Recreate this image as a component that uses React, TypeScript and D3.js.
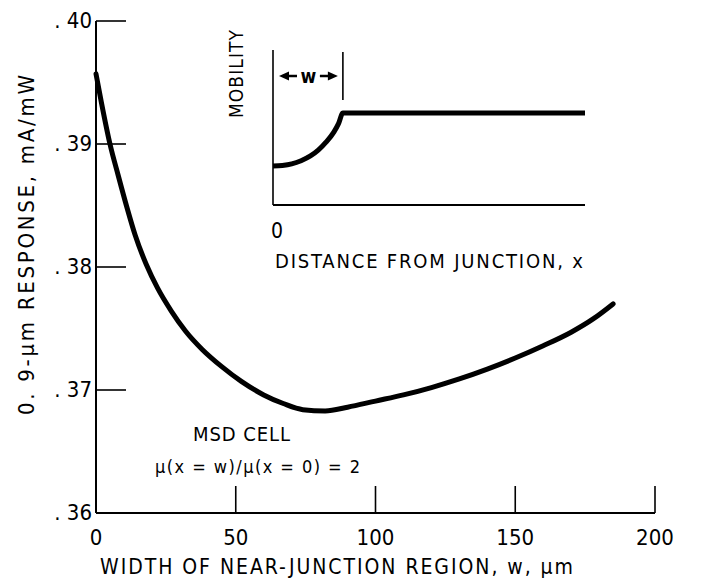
import React from "react";
import * as d3 from "d3";

// Main curve: 0.9-µm response vs. width of the near-junction region
const widthUm = [
  0, 2, 5, 8, 11, 14, 18, 22, 27, 32, 38, 45, 52, 60, 67, 74, 82, 90, 100, 110, 120, 130, 140, 150, 160, 170, 178, 185,
];
const responseMAperMW = [
  0.3957, 0.3933, 0.39, 0.3874, 0.3849, 0.3826, 0.3802, 0.3783, 0.3764, 0.3748, 0.3733, 0.3719, 0.3707, 0.3696,
  0.3689, 0.3684, 0.3683, 0.3686, 0.3691, 0.3696, 0.3702, 0.3709, 0.3717, 0.3726, 0.3736, 0.3747, 0.3758, 0.377,
];

const xTicks = [0, 50, 100, 150, 200];
const yTicks = [0.36, 0.37, 0.38, 0.39, 0.4];

// Inset: mobility profile vs. distance from junction (edge of region at w)
const insetW = 2.24;
const insetDistance = [0, 0.3, 0.6, 0.9, 1.2, 1.45, 1.7, 1.95, 2.1, insetW, 10];
const insetMobility = [1, 1.01, 1.04, 1.1, 1.19, 1.3, 1.45, 1.64, 1.8, 2, 2];

const FONT = "'Liberation Sans Narrow', 'DejaVu Sans Condensed', Arial, sans-serif";

export default function App() {
  const W = 716;
  const H = 583;

  const x = d3.scaleLinear().domain([0, 200]).range([96, 655]);
  const y = d3.scaleLinear().domain([0.36, 0.4]).range([513, 21]);

  const line = d3
    .line<number>()
    .x((_, i) => x(widthUm[i]))
    .y((d) => y(d))
    .curve(d3.curveMonotoneX);

  const ix = d3.scaleLinear().domain([0, 10]).range([273, 585]);
  const iy = d3.scaleLinear().domain([1, 2]).range([166, 113]);
  const insetLine = d3
    .line<number>()
    .x((_, i) => ix(insetDistance[i]))
    .y((d) => iy(d))
    .curve(d3.curveMonotoneX);

  const tickLen = 30;
  const xt = x.range();
  const yt = y.range();

  const arrowY = 76;
  const arrowL0 = ix(0) + 6;
  const arrowR1 = ix(insetW) - 5;

  return (
    <svg width={W} height={H} style={{ display: "block", position: "absolute", left: 0, top: 0 }} fontFamily={FONT}>
      <rect width={W} height={H} fill="#fff" />

      {/* axes */}
      <line x1={xt[0]} x2={xt[1]} y1={yt[0]} y2={yt[0]} stroke="#000" strokeWidth={2} />
      <line x1={xt[0]} x2={xt[0]} y1={yt[0]} y2={yt[1]} stroke="#000" strokeWidth={2} />

      {xTicks.map((t) => (
        <g key={"x" + t}>
          {t !== 0 && (
            <line x1={x(t)} x2={x(t)} y1={yt[0]} y2={yt[0] - 27} stroke="#000" strokeWidth={1.6} />
          )}
          <text x={x(t)} y={yt[0] + 32} fontSize={22} textAnchor="middle">
            {t}
          </text>
        </g>
      ))}

      {yTicks.map((t) => (
        <g key={"y" + t}>
          {t !== 0.36 && (
            <line x1={xt[0]} x2={xt[0] + tickLen} y1={y(t)} y2={y(t)} stroke="#000" strokeWidth={1.6} />
          )}
          <text x={xt[0] - 4} y={y(t) + 7} fontSize={22} textAnchor="end">
            {". " + Math.round(t * 100)}
          </text>
        </g>
      ))}

      <text x={100} y={574} fontSize={21} textLength={473} lengthAdjust="spacing">
        WIDTH OF NEAR-JUNCTION REGION, w, μm
      </text>
      <text transform={`translate(34, 415) rotate(-90)`} fontSize={22} textLength={340} lengthAdjust="spacing">
        0. 9-μm RESPONSE, mA/mW
      </text>

      {/* response curve */}
      <path d={line(responseMAperMW) ?? ""} fill="none" stroke="#000" strokeWidth={5} strokeLinecap="round" />

      <text x={193} y={441} fontSize={20} textLength={97} lengthAdjust="spacing">
        MSD CELL
      </text>
      <text x={155} y={473} fontSize={18} textLength={205} lengthAdjust="spacing">
        μ(x = w)/μ(x = 0) = 2
      </text>

      {/* inset */}
      <line x1={ix(0)} x2={ix(10)} y1={205} y2={205} stroke="#000" strokeWidth={2} />
      <line x1={ix(0)} x2={ix(0)} y1={205} y2={50} stroke="#000" strokeWidth={1.6} />
      <line x1={ix(insetW)} x2={ix(insetW)} y1={52} y2={100} stroke="#000" strokeWidth={1.6} />
      <path d={insetLine(insetMobility) ?? ""} fill="none" stroke="#000" strokeWidth={5} />

      <line x1={arrowL0 + 8} x2={arrowL0 + 18} y1={arrowY} y2={arrowY} stroke="#000" strokeWidth={2.5} />
      <path d={`M${arrowL0},${arrowY} L${arrowL0 + 10},${arrowY - 4.5} L${arrowL0 + 10},${arrowY + 4.5} Z`} fill="#000" />
      <line x1={arrowR1 - 18} x2={arrowR1 - 8} y1={arrowY} y2={arrowY} stroke="#000" strokeWidth={2.5} />
      <path d={`M${arrowR1},${arrowY} L${arrowR1 - 10},${arrowY - 4.5} L${arrowR1 - 10},${arrowY + 4.5} Z`} fill="#000" />
      <text x={(arrowL0 + arrowR1) / 2} y={arrowY + 7} fontSize={19} fontWeight="bold" textAnchor="middle">
        w
      </text>

      <text transform={`translate(243, 118) rotate(-90)`} fontSize={19} textLength={88} lengthAdjust="spacing">
        MOBILITY
      </text>
      <text x={ix(0) + 4} y={238} fontSize={21} textAnchor="middle">
        0
      </text>
      <text x={275} y={268} fontSize={20} textLength={308} lengthAdjust="spacing">
        DISTANCE FROM JUNCTION,  x
      </text>
    </svg>
  );
}
